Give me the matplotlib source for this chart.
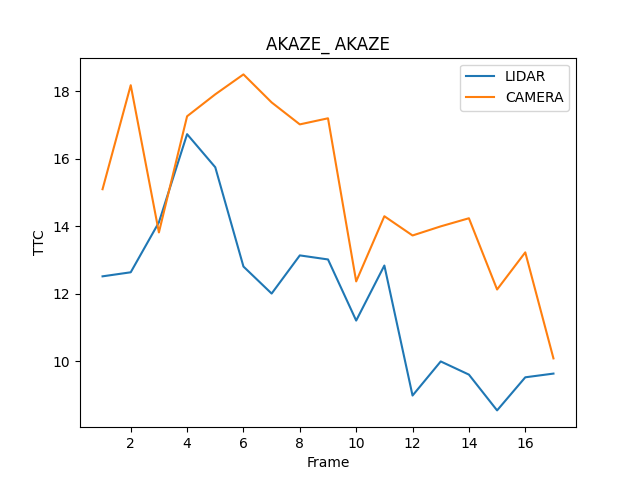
import matplotlib
matplotlib.use("Agg")
import matplotlib.pyplot as plt

frames = list(range(1, 18))
lidar = [12.52, 12.64, 14.12, 16.73, 15.75, 12.81, 12.01, 13.14, 13.02,
         11.21, 12.84, 8.99, 10.0, 9.61, 8.55, 9.53, 9.64]
camera = [15.10, 18.18, 13.82, 17.26, 17.91, 18.50, 17.67, 17.02, 17.20,
          12.37, 14.30, 13.73, 14.0, 14.24, 12.13, 13.23, 10.09]

fig = plt.figure(figsize=(6.4, 4.8), dpi=100)
plt.plot(frames, lidar, label="LIDAR")
plt.plot(frames, camera, label="CAMERA")
plt.title("AKAZE_ AKAZE")
plt.xlabel("Frame")
plt.ylabel("TTC")
plt.legend()
plt.savefig("out.png")
